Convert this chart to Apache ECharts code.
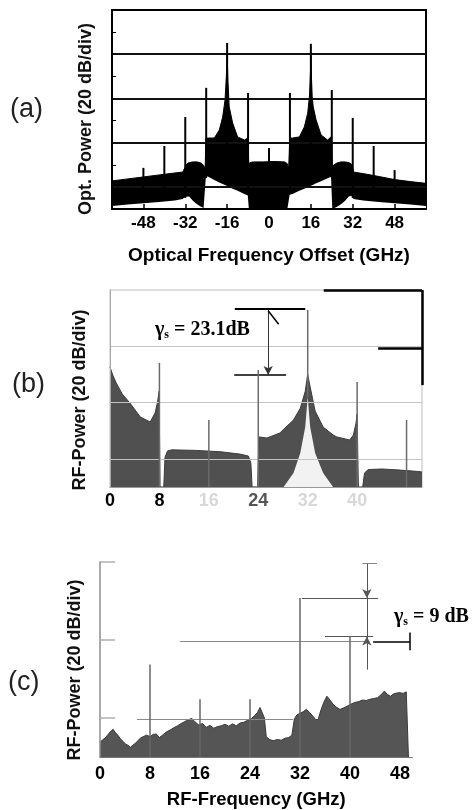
<!DOCTYPE html>
<html>
<head>
<meta charset="utf-8">
<script src="https://cdn.jsdelivr.net/npm/echarts@6/dist/echarts.min.js"></script>
<style>
  html, body { margin: 0; padding: 0; background: #fff; }
  #chart { width: 472px; height: 810px; }
</style>
</head>
<body>
<div id="chart"></div>
<script>
// ---- (a) optical spectrum, GHz offset / dB above floor ----
const freqA = [-60, -54, -48, -42, -36, -33, -32.3, -32.0, -31.5, -30.5, -29, -27.5, -26, -25, -24.4, -24.1,
  -23.8, -23.0, -20.9, -19.0, -17.7, -16.8, -16.3, -16.0, -15.7, -15.2, -13.9, -12.0, -9.4, -8.1,
  -7.7, -7.3, -6, -2, 0, 2, 6, 7.0, 7.5, 7.9,
  8.1, 9.0, 11.6, 13.5, 14.8, 15.5, 15.85, 16.0, 16.15, 16.5, 16.9, 18.0, 19.9, 22.4, 23.7, 24.0,
  24.2, 24.6, 26, 27.5, 29, 30.5, 31.5, 32.0, 32.3, 33, 36, 42, 48, 54, 60]
const upperA = [12.7, 13.6, 14.5, 15.4, 16.3, 16.7, 16.7, 19.0, 20.3, 21.0, 21.3, 21.3, 20.8, 19.8, 18.0, 32.0,
  32.1, 32.1, 32.1, 35.7, 41.6, 49.3, 60, 70, 58, 46.2, 38.9, 32.6, 31.2, 32.1,
  19.5, 21.0, 21.3, 21.3, 21.4, 21.5, 21.3, 20.5, 18.0, 30.0,
  32.1, 32.1, 32.6, 37.1, 43.4, 51.6, 62, 70, 62, 51, 46.2, 40.3, 33.5, 31.2, 32.6, 30.0,
  17.5, 19.8, 20.8, 21.3, 21.3, 21.0, 20.3, 19.0, 16.7, 16.5, 16.0, 14.7, 13.3, 12.4, 11.6]
const lowerA = [1.4, 2.0, 2.6, 3.2, 3.9, 4.5, 4.4, 5.5, 6.0, 5.6, 3.6, 2.2, 1.0, 0.4, 0, 15.0,
  14.5, 14.5, 13.1, 12.0, 11.3, 10.8, 10.6, 10.4, 10.2, 9.9, 9.2, 8.2, 6.8, 6.1,
  0, 0, 0, 0, 0, 0, 0, 0, 0, 6.5,
  6.8, 6.8, 8.2, 9.2, 9.9, 10.2, 10.4, 10.5, 10.6, 10.8, 11.0, 11.6, 12.6, 13.9, 14.6, 14.5,
  0, 0.4, 1.0, 2.2, 3.6, 5.6, 6.0, 5.5, 4.5, 4.5, 3.9, 3.2, 2.6, 2.0, 1.4]
const spikeFreqA = [-48, -40, -32, -24, -16, -8, 0, 8, 16, 24, 32, 40, 48]
const spikeBaseA = [3, 4, 5, 14, 12, 7, 15, 8, 12, 14, 5, 4, 3]
const spikeTopA = [18.6, 28.5, 41.6, 54.8, 75.1, 52.5, 27.6, 52.5, 74.7, 53.8, 41.2, 28.5, 17.6]
const tickA = [-48, -32, -16, 0, 16, 32, 48]

// ---- (b) RF spectrum ----
const freqB = [0, 0.5, 1.0, 2.0, 3.2, 4.9, 6.5, 7.3, 7.7, 7.95, 8.1, 8.7, 8.9, 9.3, 10, 14, 18, 21, 22.4, 22.8, 23.0, 23.9,
  24.1, 25.4, 27.5, 28.1, 29.7, 30.8, 31.6, 32.0, 32.4, 33.2, 34.5, 36.1, 36.7, 38.8, 39.4, 39.8, 40.0, 40.2, 40.9,
  41.2, 41.8, 44, 47, 50, 50.5]
const upperB = [42.6, 39.5, 37.0, 33.0, 29.9, 24.9, 23.1, 26.3, 30.2, 34.0, 0, 0, 10.5, 12.8, 13.2, 13.0, 12.5, 11.7, 11.0, 8.5, 0, 0,
  17.8, 17.4, 19.2, 20.5, 23.8, 28.0, 34.0, 40.0, 35.5, 27.0, 21.3, 18.5, 17.8, 16.7, 18.5, 22.5, 26.0, 0, 0,
  5.0, 6.2, 6.4, 6.0, 5.5, 5.3]
const lowerB = [0, 0, 0, 0, 0, 0, 0, 0, 0, 0, 0, 0, 0, 0, 0, 0, 0, 0, 0, 0, 0, 0,
  0, 0, 0, 0, 5.0, 12.1, 21.3, 32.0, 21.3, 12.1, 5.0, 0, 0, 0, 0, 0, 0, 0, 0,
  0, 0, 0, 0, 0, 0]
const spikeFreqB = [8, 16, 24, 32, 40, 48]
const spikeBaseB = [0, 0, 0, 32, 0, 0]
const spikeTopB = [44.1, 23.8, 41.6, 62.9, 37.3, 23.8]
const tickB = [0, 8, 16, 24, 32, 40]
const faintTickB = [16, 32, 40]

// ---- (c) RF spectrum ----
const freqC = [0, 0.4, 0.8, 1.2, 1.6, 2.1, 2.5, 2.9, 3.3, 3.7, 4.1, 4.5, 4.9, 5.3, 5.7, 6.1, 6.5, 7.0, 7.5, 8.0,
  8.5, 9.0, 9.5, 10.0, 10.6, 11.2, 11.8, 12.4, 13.0, 13.6, 14.2, 14.7, 15.2, 15.8, 16.4, 17.0, 17.6, 18.2, 18.8,
  19.4, 20.0, 20.6, 21.2, 21.8, 22.4, 23.0, 23.6, 24.2, 24.7, 25.2, 25.6, 26.0, 26.3, 26.6, 27.2, 27.8, 28.4,
  29.0, 29.6, 30.2, 30.7, 31.1, 31.5, 32.0, 32.5, 33.0, 33.5, 34.0, 34.5, 34.9, 35.3, 35.8, 36.3, 36.8, 37.3,
  37.8, 38.4, 39.0, 39.6, 40.2, 40.8, 41.4, 42.0, 42.6, 43.2, 43.8, 44.4, 45.0, 45.5, 46.0, 46.5, 47.0, 47.5,
  48.0, 48.5, 49.0, 49.3, 49.35]
const powerC = [3.7, 4.4, 4.8, 5.6, 6.4, 7.1, 6.2, 5.5, 4.6, 4.0, 3.3, 3.0, 2.5, 3.1, 3.6, 4.2, 4.9, 5.3, 5.6, 5.2,
  5.8, 5.9, 5.0, 5.6, 6.4, 6.9, 7.5, 8.0, 8.6, 9.1, 9.6, 9.9, 9.0, 8.2, 8.6, 7.6, 8.1, 7.4, 7.8,
  8.0, 8.4, 7.9, 8.5, 8.0, 8.7, 8.9, 9.4, 9.8, 10.6, 11.4, 12.7, 11.2, 10.0, 5.2, 4.4, 4.2, 4.5,
  4.3, 4.8, 5.0, 5.6, 9.8, 10.8, 11.2, 11.6, 12.2, 11.5, 10.6, 9.6, 9.6, 11.8, 14.0, 15.6, 14.6, 13.5,
  12.8, 12.2, 12.6, 13.1, 13.6, 14.0, 14.2, 14.6, 14.5, 14.8, 15.0, 15.2, 16.0, 16.9, 16.0, 15.6, 16.2, 16.4,
  16.5, 16.3, 16.7, 16.9, 0]
const spikeFreqC = [8, 16, 24, 32, 40]
const spikeTopC = [23.7, 14.8, 14.8, 40.8, 30.9]
const tickC = [0, 8, 16, 24, 32, 40, 48]

const sans = "'Liberation Sans', Arial, sans-serif"
const serif = "'Liberation Serif', 'Times New Roman', serif"

// one straight annotation segment in data coordinates
const seg = (x1, y1, x2, y2, color, width, endSymbol) => [
  { coord: [x1, y1], symbol: 'none', lineStyle: { color: color, width: width, type: 'solid' } },
  { coord: [x2, y2], symbol: endSymbol || 'none', symbolSize: [7, 9] },
]

// horizontal division lines across the whole plot
const gridLines = (values, color, width) => values.map((v) => ({
  yAxis: v, symbol: 'none', lineStyle: { color: color, width: width, type: 'solid' },
}))

const areaSeries = (idx, data, lineColor, fillColor, z) => ({
  type: 'line', xAxisIndex: idx, yAxisIndex: idx, symbol: 'none', silent: true, z: z,
  data: data,
  lineStyle: { color: lineColor, width: lineColor ? 1 : 0 },
  areaStyle: { color: fillColor, opacity: 1 },
})

const spikeSeries = (idx, data, color, width) => ({
  type: 'custom',
  xAxisIndex: idx,
  yAxisIndex: idx,
  silent: true,
  z: 5,
  encode: { x: 0, y: [1, 2] },
  data: data,
  renderItem: (params, api) => {
    const p0 = api.coord([api.value(0), api.value(1)])
    const p1 = api.coord([api.value(0), api.value(2)])
    return {
      type: 'line',
      shape: { x1: p0[0], y1: p0[1], x2: p1[0], y2: p1[1] },
      style: { stroke: color, lineWidth: width },
    }
  },
})

const annotSeries = (idx, lines, z) => ({
  type: 'line',
  xAxisIndex: idx,
  yAxisIndex: idx,
  data: [[0, 0]],
  symbol: 'none',
  silent: true,
  lineStyle: { opacity: 0 },
  z: z,
  markLine: { silent: true, symbol: ['none', 'none'], label: { show: false }, animation: false, data: lines },
})

const gammaRich = {
  g: { fontSize: 20, fontWeight: 'bold', fontFamily: serif, fill: '#000' },
  s: { fontSize: 12, fontWeight: 'bold', fontFamily: serif, fill: '#000', padding: [9, 0, 0, 0] },
  t: { fontSize: 20, fontWeight: 'bold', fontFamily: serif, fill: '#000' },
}
const axisFont = { color: '#000', fontWeight: 'bold', fontFamily: sans }

const chart = echarts.init(document.getElementById('chart'))

chart.setOption({
  animation: false,
  backgroundColor: '#fff',
  grid: [
    { left: 112, top: 10, width: 314, height: 199, show: true, borderColor: '#000', borderWidth: 2 },
    { left: 110, top: 290, width: 312, height: 197, show: true, borderColor: '#bdbdbd', borderWidth: 1 },
    { left: 100, top: 562, width: 312.5, height: 196 },
  ],
  xAxis: [
    {
      gridIndex: 0, type: 'value', min: -60, max: 60, z: 10,
      axisLine: { onZero: false, lineStyle: { color: '#000', width: 2 } },
      axisTick: { inside: true, length: 5, customValues: tickA, lineStyle: { color: '#000', width: 1.5 } },
      axisLabel: { customValues: tickA, margin: 6, fontSize: 17, ...axisFont },
      splitLine: { show: false },
      name: 'Optical Frequency Offset (GHz)', nameLocation: 'middle', nameGap: 37,
      nameTextStyle: { fontSize: 19, ...axisFont },
    },
    {
      gridIndex: 1, type: 'value', min: 0, max: 50.5, z: 10,
      axisLine: { onZero: false, lineStyle: { color: '#9a9a9a', width: 1 } },
      axisTick: { show: false },
      axisLabel: {
        customValues: tickB, margin: 5,
        formatter: (v) => (faintTickB.includes(v) ? '{f|' + v + '}' : v === 24 ? '{m|' + v + '}' : '{d|' + v + '}'),
        rich: {
          d: { fontSize: 18, ...axisFont },
          m: { fontSize: 18, ...axisFont, color: '#555' },
          f: { fontSize: 18, ...axisFont, color: '#d8d8d8' },
        },
      },
      splitLine: { show: false },
    },
    {
      gridIndex: 2, type: 'value', min: 0, max: 50, z: 10,
      axisLine: { onZero: false, lineStyle: { color: '#777', width: 1 } },
      axisTick: { show: false },
      axisLabel: { customValues: tickC, margin: 8, fontSize: 18, ...axisFont },
      splitLine: { show: false },
      name: 'RF-Frequency (GHz)', nameLocation: 'middle', nameGap: 33,
      nameTextStyle: { fontSize: 18.5, ...axisFont },
    },
  ],
  yAxis: [
    {
      gridIndex: 0, type: 'value', min: 0, max: 90, z: 10,
      axisLine: { show: true, onZero: false, lineStyle: { color: '#000', width: 2 } },
      axisTick: { inside: true, length: 4, customValues: [20, 40, 60, 80], lineStyle: { color: '#000' } },
      axisLabel: { show: false }, splitLine: { show: false },
    },
    {
      gridIndex: 1, type: 'value', min: 0, max: 70, z: 10,
      axisLine: { show: true, onZero: false, lineStyle: { color: '#a8a8a8', width: 1 } },
      axisTick: { show: false }, axisLabel: { show: false }, splitLine: { show: false },
    },
    {
      gridIndex: 2, type: 'value', min: 0, max: 50, z: 10,
      axisLine: { show: true, onZero: false, lineStyle: { color: '#8c8c8c', width: 1.5 } },
      axisTick: { inside: true, length: 15, customValues: [10, 30, 50], lineStyle: { color: '#b0b0b0', width: 1.5 } },
      axisLabel: { show: false }, splitLine: { show: false },
    },
  ],
  series: [
    // (a): black up to the upper envelope, white again below the lower envelope
    areaSeries(0, freqA.map((f, i) => [f, upperA[i]]), '#000', '#000', 2),
    areaSeries(0, freqA.map((f, i) => [f, lowerA[i]]), null, '#fff', 3),
    annotSeries(0, gridLines([10, 30, 50, 70], '#111', 2), 4),
    spikeSeries(0, spikeFreqA.map((f, i) => [f, spikeBaseA[i], spikeTopA[i]]), '#000', 2),
    // (b)
    areaSeries(1, freqB.map((f, i) => [f, upperB[i]]), '#3c3c3c', '#505050', 2),
    areaSeries(1, freqB.map((f, i) => [f, lowerB[i]]), null, '#f2f2f2', 3),
    annotSeries(1, gridLines([10, 30, 50], '#c4c4c4', 1), 4),
    spikeSeries(1, spikeFreqB.map((f, i) => [f, spikeBaseB[i], spikeTopB[i]]), '#6a6a6a', 1.5),
    annotSeries(1, [
      seg(20.2, 63.3, 31.6, 63.3, '#000', 2),
      seg(20.1, 39.8, 28.5, 39.8, '#000', 1.5),
      seg(25.6, 63.0, 25.6, 39.8, '#333', 1, 'arrow'),
      seg(25.6, 62.6, 27.3, 57.8, '#000', 1.5),
      seg(34.6, 70, 50.5, 70, '#000', 2.5),
      seg(50.5, 70, 50.5, 36.2, '#000', 2.5),
      seg(43.4, 49.4, 50.5, 49.4, '#000', 2.5),
    ], 6),
    // (c)
    areaSeries(2, freqC.map((f, i) => [f, powerC[i]]), '#3a3a3a', '#555', 2),
    spikeSeries(2, spikeFreqC.map((f, i) => [f, 0, spikeTopC[i]]), '#666', 1.5),
    annotSeries(2, [
      seg(12.8, 29.8, 42.7, 29.8, '#8a8a8a', 1),
      seg(5.9, 9.7, 30.9, 9.7, '#8a8a8a', 1),
      seg(32.3, 40.8, 44.5, 40.8, '#555', 1),
      seg(36.0, 30.9, 43.7, 30.9, '#555', 1),
      seg(42.7, 49.7, 42.7, 40.8, '#555', 1, 'arrow'),
      seg(42.7, 22.4, 42.7, 30.9, '#555', 1, 'arrow'),
      seg(42.7, 40.8, 42.7, 30.9, '#555', 1),
      seg(42.0, 49.7, 44.3, 49.7, '#888', 1),
      seg(43.7, 29.6, 49.6, 29.6, '#000', 1.5),
      seg(49.6, 31.9, 49.6, 27.4, '#000', 1.5),
    ], 6),
  ],
  graphic: [
    { type: 'text', x: 10, y: 110, style: { text: '(a)', fontSize: 27, fontFamily: sans, fill: '#222', verticalAlign: 'middle' } },
    { type: 'text', x: 12, y: 385, style: { text: '(b)', fontSize: 27, fontFamily: sans, fill: '#222', verticalAlign: 'middle' } },
    { type: 'text', x: 8, y: 683, style: { text: '(c)', fontSize: 27, fontFamily: sans, fill: '#222', verticalAlign: 'middle' } },
    {
      type: 'text', x: 86, y: 119, rotation: Math.PI / 2,
      style: { text: 'Opt. Power (20 dB/div)', fontSize: 18, fontWeight: 'bold', fontFamily: sans, fill: '#111', align: 'center', verticalAlign: 'middle' },
    },
    {
      type: 'text', x: 80, y: 400, rotation: Math.PI / 2,
      style: { text: 'RF-Power (20 dB/div)', fontSize: 18, fontWeight: 'bold', fontFamily: sans, fill: '#111', align: 'center', verticalAlign: 'middle' },
    },
    {
      type: 'text', x: 75, y: 670, rotation: Math.PI / 2,
      style: { text: 'RF-Power (20 dB/div)', fontSize: 18, fontWeight: 'bold', fontFamily: sans, fill: '#111', align: 'center', verticalAlign: 'middle' },
    },
    { type: 'text', x: 155, y: 330, style: { text: '{g|γ}{s|s}{t| = 23.1dB}', verticalAlign: 'middle', rich: gammaRich } },
    { type: 'text', x: 394, y: 617, style: { text: '{g|γ}{s|s}{t| = 9 dB}', verticalAlign: 'middle', rich: gammaRich } },
  ],
})
</script>
</body>
</html>
